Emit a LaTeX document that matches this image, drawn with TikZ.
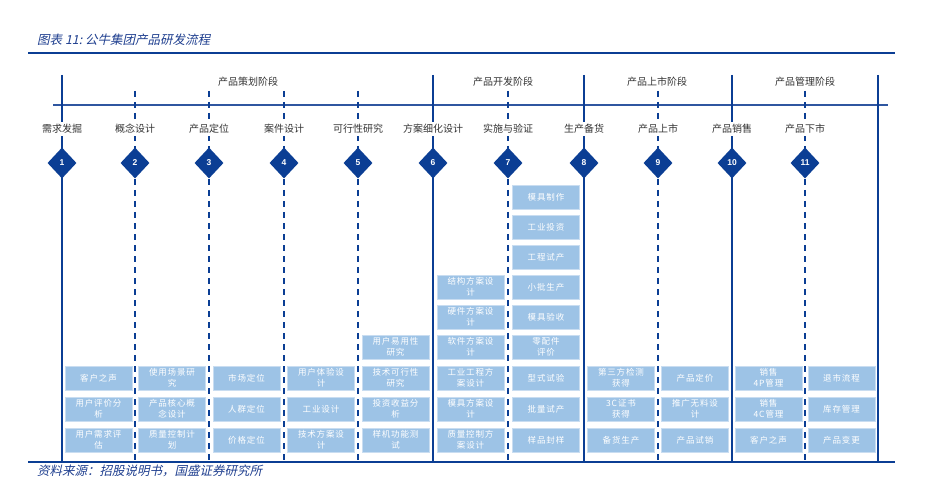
\documentclass[tikz,border=0pt]{standalone}
\usepackage{fontspec}
\setmainfont{Noto Sans CJK SC}
\newfontfamily\cjk{Noto Sans CJK SC}
\newfontfamily\boxfont[LetterSpace=10]{Noto Sans CJK SC}
\newfontfamily\cjktitle[FakeSlant=0.22]{Noto Sans CJK SC}
\newfontfamily\numfont{Liberation Sans}
\usepackage{xcolor}
\usepackage{tikz}
\usetikzlibrary{shapes.geometric,positioning}
\definecolor{navy}{HTML}{0B3E94}
\definecolor{axisblue}{HTML}{2F56A0}
\definecolor{skyfill}{HTML}{9DC3E6}
\definecolor{skyedge}{HTML}{C9DDF1}
\definecolor{titleblue}{HTML}{1F3F8F}
\definecolor{bk80}{HTML}{333333}
\tikzset{
  phaseline/.style={navy, line width=2.6pt},
  stepline/.style={navy, line width=2.4pt, dash pattern=on 6pt off 5pt},
  axisline/.style={axisblue, line width=2.6pt},
  titlerule/.style={navy, line width=1.4pt},
  steplabel/.style={
    fill=white, text=bk80, inner sep=2pt,
    font=\cjk\fontsize{10}{12}\selectfont
  },
  phaselabel/.style={
    text=bk80, inner sep=1pt,
    font=\cjk\fontsize{10}{12}\selectfont
  },
  stepmark/.style={
    diamond, fill=navy, inner sep=0pt,
    minimum width=29pt, minimum height=31pt,
    text=white, font=\numfont\bfseries\fontsize{8.5}{9}\selectfont
  },
  taskbox/.style={
    rectangle, fill=skyfill, draw=skyedge, line width=0.8pt,
    minimum width=67pt, minimum height=24pt,
    text=white, align=center, inner sep=1pt,
    font=\boxfont\fontsize{8.5}{11}\selectfont
  },
  titletext/.style={
    text=titleblue, inner sep=0pt,
    font=\cjktitle\fontsize{12.5}{14}\selectfont
  },
}

\begin{document}
\begin{tikzpicture}[x=1pt, y=-1pt]
\useasboundingbox (0,0) rectangle (927,484);

% ── title and source ──
\node[titletext, anchor=west] (title) at (37,40) {图表 11:\ 公牛集团产品研发流程};
\coordinate (rule-l) at (28,53);
\coordinate (rule-r) at (895,53);
\draw[titlerule] (rule-l) -- (rule-r);
\node[titletext, anchor=west] (source) at (37,471) {资料来源：招股说明书，国盛证券研究所};
\coordinate (base-l) at (28,462);
\coordinate (base-r) at (895,462);
\draw[titlerule] (base-l) -- (base-r);

% ── time axis ──
\coordinate (ax-l) at (53,105);
\coordinate (ax-r) at (888,105);
\draw[axisline] (ax-l) -- (ax-r);

% ── phases ──
\node[phaselabel] (p-plan) at (248,82) {产品策划阶段};
\node[phaselabel] (p-dev)  at (503,82) {产品开发阶段};
\node[phaselabel] (p-mkt)  at (657,82) {产品上市阶段};
\node[phaselabel] (p-mgmt) at (805,82) {产品管理阶段};

% ── steps ──
\foreach \i/\x/\ty/\kind/\name in {
    1/62/75/phaseline/需求发掘,
    2/135/91/stepline/概念设计,
    3/209/91/stepline/产品定位,
    4/284/91/stepline/案件设计,
    5/358/91/stepline/可行性研究,
    6/433/75/phaseline/方案细化设计,
    7/508/91/stepline/实施与验证,
    8/584/75/phaseline/生产备货,
    9/658/91/stepline/产品上市,
    10/732/75/phaseline/产品销售,
    11/805/91/stepline/产品下市} {
  \coordinate (top-\i) at (\x,\ty);
  \coordinate (bot-\i) at (\x,462);
  \draw[\kind] (top-\i) -- (bot-\i);
  \node[steplabel] (l-\i) at (\x,129) {\name};
  \node[stepmark] (d-\i) at (\x,163) {\i};
}
\coordinate (top-12) at (878,75);
\coordinate (bot-12) at (878,462);
\draw[phaseline] (top-12) -- (bot-12);

% ── tasks: column/row/text ──
\foreach \c/\r/\t in {
    1/7/客户之声, 1/8/{用户评价分\\析}, 1/9/{用户需求评\\估},
    2/7/{使用场景研\\究}, 2/8/{产品核心概\\念设计}, 2/9/{质量控制计\\划},
    3/7/市场定位, 3/8/人群定位, 3/9/价格定位,
    4/7/{用户体验设\\计}, 4/8/工业设计, 4/9/{技术方案设\\计},
    5/6/{用户易用性\\研究}, 5/7/{技术可行性\\研究}, 5/8/{投资收益分\\析}, 5/9/{样机功能测\\试},
    6/4/{结构方案设\\计}, 6/5/{硬件方案设\\计}, 6/6/{软件方案设\\计},
    6/7/{工业工程方\\案设计}, 6/8/{模具方案设\\计}, 6/9/{质量控制方\\案设计},
    7/1/模具制作, 7/2/工业投资, 7/3/工程试产, 7/4/小批生产, 7/5/模具验收,
    7/6/{零配件\\评价}, 7/7/型式试验, 7/8/批量试产, 7/9/样品封样,
    8/7/{第三方检测\\获得}, 8/8/{3C证书\\获得}, 8/9/备货生产,
    9/7/产品定价, 9/8/{推广无料设\\计}, 9/9/产品试销,
    10/7/{销售\\4P管理}, 10/8/{销售\\4C管理}, 10/9/客户之声,
    11/7/退市流程, 11/8/库存管理, 11/9/产品变更} {
  \pgfmathsetmacro\bx{{98.5,172,246.5,321,395.5,470.5,546,621,695,768.5,841.5}[\c-1]}
  \pgfmathsetmacro\by{{197,227,257,287,317,347,378,409,440}[\r-1]}
  \node[taskbox] (b-\c-\r) at (\bx,\by) {\t};
}
\end{tikzpicture}
\end{document}
